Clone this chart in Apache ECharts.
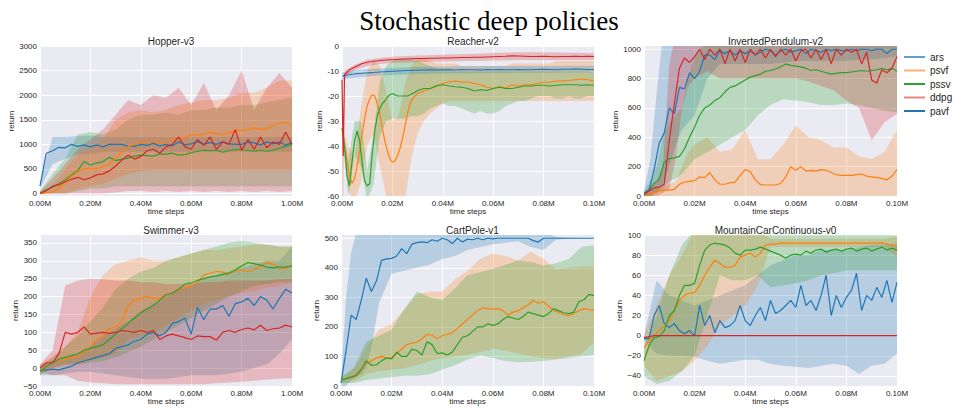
<!DOCTYPE html>
<html><head><meta charset="utf-8">
<script src="https://cdn.jsdelivr.net/npm/echarts@6/dist/echarts.min.js"></script>
<style>html,body{margin:0;padding:0;background:#fff}#c{width:953px;height:410px}</style>
</head><body><div id="c"></div>
<script>
function seq(step, n, start) { start = start || 0; return Array.from({length: n}, (_, i) => +(start + step * i).toFixed(6)); }

// ---------- Hopper-v3 ----------
const hopX = seq(0.025, 41);
const hopBlue = [150,820,870,940,930,1000,960,990,950,990,950,1000,1000,1000,960,960,1000,980,1020,970,1000,970,1050,990,1010,1060,1000,1040,1000,1050,1010,1000,1000,1050,1030,990,1050,1010,1050,980,1040];
const hopOrange = [0,20,30,100,250,350,450,500,510,500,540,600,720,850,950,1000,1040,1050,1050,1040,1050,1100,1120,1130,1200,1190,1210,1250,1220,1200,1240,1280,1290,1300,1340,1300,1320,1380,1440,1450,1380];
const hopGreen = [0,80,130,200,280,380,470,650,580,620,650,740,670,700,720,760,780,770,760,800,800,820,780,790,830,860,880,870,880,840,870,900,890,880,860,880,860,880,920,960,1000];
const hopRed = [0,60,150,180,240,290,330,280,320,380,400,460,560,680,780,700,750,870,900,820,950,1000,1150,950,900,1100,980,1150,900,1050,1000,1300,880,1100,900,1150,930,1050,1000,1250,1000];
const hopBX = seq(0.05, 21);
const hopBlueLo = [100,600,700,800,800,850,850,850,850,850,850,850,850,850,850,850,850,850,850,850,850];
const hopBlueHi = [250,1150,1150,1170,1180,1150,1150,1150,1150,1150,1150,1150,1150,1150,1150,1150,1150,1150,1150,1150,1150];
const hopOrangeLo = [0,0,0,100,150,200,300,400,450,480,480,480,480,480,480,480,480,480,480,480,480];
const hopOrangeHi = [30,150,500,800,900,1100,1500,1650,1700,1650,1700,1800,1850,1900,1900,1950,2050,2050,2150,2300,2300];
const hopGreenLo = [0,0,0,50,100,100,150,150,150,150,150,150,150,150,150,150,150,150,150,150,150];
const hopGreenHi = [50,400,700,1200,1250,1200,1300,1500,1600,1600,1650,1600,1700,1700,1750,1750,1800,1800,1850,1900,1950];
const hopRedLo = [0,0,0,0,0,0,20,50,50,30,50,30,50,30,50,30,50,30,50,30,50];
const hopRedHi = [50,300,600,900,1100,1300,1600,1900,1800,2000,1950,2150,1800,2250,1700,2000,2500,1700,2150,2450,2150];

// ---------- Reacher-v2 ----------
const reaX = [0, 0.0005].concat(seq(0.001, 30, 0.001), seq(0.0025, 28, 0.0325));
const reaRed = [-13.5,-44,-11.5,-10.5,-9.5,-9,-8.5,-8,-7.5,-7,-6.8,-6.5,-6.3,-6.2,-6,-6,-5.8,-5.7,-5.6,-5.6,-5.5,-5.5,-5.4,-5.4,-5.3,-5.3,-5.2,-5.2,-5.1,-5.1,-5,-5,-5,-4.9,-4.9,-4.8,-4.8,-4.7,-4.6,-4.6,-4.5,-4.5,-4.4,-4.3,-4.2,-4.1,-3.9,-4,-4.1,-4.2,-4.2,-4.1,-4.2,-4.3,-4.2,-4.2,-4.1,-4.2,-4.1,-4.2];
const reaBlue = [-12,-12,-11.8,-11.6,-11.5,-11.3,-11.2,-11,-11,-10.9,-10.8,-10.8,-10.6,-10.7,-10.5,-10.5,-10.4,-10.3,-10.3,-10.2,-10.2,-10.1,-10.1,-10,-10,-9.9,-9.9,-9.8,-9.8,-9.8,-9.7,-9.7,-9.6,-9.5,-9.6,-9.5,-9.5,-9.6,-9.4,-9.5,-9.5,-9.6,-9.4,-9.5,-9.4,-9.5,-9.5,-9.4,-9.5,-9.5,-9.4,-9.3,-9.4,-9.5,-9.3,-9.3,-9.2,-9.3,-9.4,-9.5];
const reaGreen = [-33,-36,-40,-52,-56,-46,-38,-34,-38,-47,-54,-56,-55,-43,-34,-28,-25,-23,-22,-20.5,-19.5,-19,-19.5,-20,-20,-20,-20,-20,-19.5,-19,-18.5,-17.8,-17,-17,-16,-15.5,-16,-16.3,-16.5,-17,-18,-17.5,-17.8,-17,-16.5,-17,-17,-16.5,-16,-16,-15.7,-15.7,-16,-15.7,-15.5,-15.5,-15.5,-15.7,-15.5,-15.7];
const reaOrange = [-33,-36,-40,-46,-52,-55,-53,-48,-42,-35,-29,-24,-21,-19.5,-20,-23,-27,-33,-38,-42,-45,-46.5,-46,-44,-41,-37,-32,-27,-23,-21,-20,-19,-18,-17,-15.8,-15,-14.3,-14,-14.5,-14.5,-15,-15.5,-16.5,-17,-16.2,-16.8,-15.5,-16,-15.5,-15.5,-15,-14.5,-14.5,-14,-14,-13.8,-13.5,-13.2,-13.5,-14];
const reaBX = seq(0.0025, 41);
const reaBlueLo = [-13.5,-13,-12.7,-12.5,-12.2,-12,-11.8,-11.7,-11.6,-11.5,-11.4,-11.3,-11.2,-11.1,-11,-11,-11,-10.9,-10.9,-10.9,-10.9,-10.8,-10.8,-10.8,-10.8,-10.8,-10.8,-10.8,-10.7,-10.7,-10.7,-10.7,-10.7,-10.7,-10.6,-10.6,-10.6,-10.6,-10.6,-10.6,-10.7];
const reaBlueHi = [-10.5,-10,-9.7,-9.5,-9.3,-9.1,-9,-8.9,-8.8,-8.7,-8.6,-8.5,-8.4,-8.3,-8.2,-8.2,-8.2,-8.2,-8.1,-8.1,-8.1,-8.1,-8.1,-8,-8,-8,-8,-8,-8,-8,-8,-8,-8,-8,-8,-8,-7.9,-7.9,-7.9,-7.9,-8];
const reaGreenLo = [-36,-60,-44,-48,-62,-55,-36,-30,-29,-29,-29,-28,-28,-27,-25,-24,-23,-24,-24,-25,-26,-27,-26,-27,-27,-26,-24,-23,-22,-22,-21,-20,-20,-20,-21,-21,-20,-21,-21,-20,-20];
const reaGreenHi = [-31,-46,-30,-30,-50,-35,-14,-8,-6,-5,-5,-5,-6,-7,-8,-9,-9,-9,-10,-10,-10,-10,-10,-10,-10,-10,-10,-10,-10,-10,-10,-10,-10,-10,-10,-10,-10,-10,-10,-10,-11];
const reaOrangeLo = [-34,-58,-62,-55,-40,-35,-48,-60,-62,-62,-62,-45,-35,-30,-27,-25,-23,-22,-22,-22,-22,-22,-22,-22,-22,-22,-22,-22,-22,-22,-22,-22,-22,-22,-22,-22,-22,-22,-22,-22,-22];
const reaOrangeHi = [-32,-40,-45,-25,-10,-6,-8,-18,-30,-28,-15,-8,-5,-5,-6,-7,-7,-7,-7,-8,-8,-8,-8,-8,-8,-8,-8,-7,-7,-7,-7,-7,-7,-7,-6,-6,-6,-6,-6,-6,-6];
const reaRedBX = [0,0.0005,0.001,0.0025,0.005,0.0075,0.01,0.015,0.02,0.03,0.04,0.05,0.06,0.07,0.08,0.09,0.1];
const reaRedLo = [-60,-60,-13,-11.5,-9.8,-8.8,-8,-7.2,-6.8,-6.4,-6.2,-6,-5.8,-5.6,-5.6,-5.6,-5.6];
const reaRedHi = [-11,-30,-10,-9,-7.5,-6.5,-5.5,-4.8,-4.3,-3.8,-3.5,-3.2,-2.8,-2.5,-2.5,-2.7,-2.8];

// ---------- InvertedPendulum-v2 ----------
const ipX = seq(0.002, 51);
const ipBlue = [20,40,180,360,430,600,560,740,730,840,800,850,960,960,930,990,970,990,960,990,970,990,960,980,1000,990,960,990,1000,980,990,1000,970,1000,990,980,1000,990,1000,990,990,1000,990,1000,1000,990,1000,1000,970,1000,1000];
const ipRed = [10,35,55,60,80,380,630,870,940,910,950,1000,930,1000,960,1000,900,1000,920,1000,910,1000,960,1000,940,1000,950,1000,960,1000,920,990,1000,940,1000,930,1000,900,1000,960,1000,980,1000,900,980,790,770,860,840,870,950];
const ipGreen = [10,35,85,115,230,255,260,270,320,400,470,550,600,620,650,670,710,740,750,770,790,810,820,830,850,855,865,880,900,890,885,880,870,855,860,850,840,830,835,840,840,845,850,855,850,855,860,870,860,870,850];
const ipOrange = [0,15,25,35,40,40,45,80,95,100,105,130,125,160,110,80,80,90,95,140,180,165,110,78,75,75,75,85,130,200,175,200,170,175,170,180,175,160,145,140,140,140,145,150,135,130,125,120,110,135,180];
const ipBX = seq(0.0025, 9).concat(seq(0.005, 16, 0.025));
const ipBlueLo = [0,0,30,80,200,350,450,500,550,800,900,900,900,900,900,910,920,920,920,920,920,930,930,940,950];
const ipBlueHi = [40,250,700,1100,1100,1100,1100,1100,1100,1100,1100,1100,1100,1100,1100,1100,1100,1100,1100,1100,1100,1100,1100,1100,1100];
const ipRedLo = [0,0,0,20,50,250,600,750,800,850,800,800,800,800,800,800,800,780,750,720,650,600,380,500,560];
const ipRedHi = [20,70,100,200,900,1100,1100,1100,1100,1100,1100,1100,1100,1100,1100,1100,1100,1100,1100,1100,1100,1100,1100,1100,1100];
const ipGreenLo = [0,0,20,50,100,120,150,200,250,300,350,400,450,550,620,660,650,640,620,620,630,620,600,580,570];
const ipGreenHi = [30,100,200,400,500,550,600,800,950,1050,1050,1050,1050,1050,1050,1050,1050,1050,1050,1050,1050,1050,1050,1050,1050];
const ipOrangeLo = [0,0,0,0,0,0,0,0,0,0,0,0,0,0,0,0,0,0,0,0,0,0,0,0,0];
const ipOrangeHi = [10,30,50,60,80,100,200,300,350,400,300,320,450,250,250,350,480,400,380,330,330,270,250,300,450];

// ---------- Swimmer-v3 ----------
const swX = seq(0.025, 41);
const swRed = [0,15,15,40,100,95,100,115,95,98,100,97,100,105,103,100,105,100,105,80,90,95,90,85,80,90,88,88,78,100,105,100,108,112,107,120,105,110,112,120,115];
const swBlue = [-5,-5,-3,-5,0,5,15,20,25,30,35,40,55,60,65,75,80,95,100,90,100,125,130,140,95,170,135,165,165,175,145,180,185,195,175,200,190,165,195,220,210];
const swOrange = [-5,5,15,20,25,30,30,45,60,80,90,110,115,130,175,190,195,200,195,195,205,210,220,225,230,240,260,265,270,268,265,270,275,270,275,285,295,290,280,278,288];
const swGreen = [-10,5,15,25,30,35,40,50,55,60,65,80,95,110,125,140,155,165,175,190,205,210,220,235,238,245,250,255,258,262,265,275,285,295,292,288,282,280,282,283,285];
const swBX = seq(0.05, 21);
const swRedLo = [-10,-20,-20,-35,-40,-42,-45,-45,-45,-45,-45,-45,-45,-45,-42,-40,-38,-35,-32,-30,-28];
const swRedHi = [10,50,230,245,250,248,245,245,240,240,235,235,235,240,240,245,245,245,245,248,250];
const swOrangeLo = [-20,0,10,10,20,30,40,80,90,100,120,140,160,180,190,200,210,215,225,230,240];
const swOrangeHi = [10,30,60,100,200,260,290,300,310,300,300,310,320,330,330,335,340,345,345,340,340];
const swGreenLo = [-20,0,10,10,15,20,30,45,60,80,100,120,140,160,180,200,215,230,235,240,240];
const swGreenHi = [0,30,60,90,130,170,220,250,270,280,300,310,320,330,340,350,355,350,345,340,340];
const swBlueLo = [-20,-20,-15,-10,-10,-15,-20,-25,-30,-30,-30,-25,-20,-20,-20,-15,-10,0,10,40,80];
const swBlueHi = [10,20,25,40,60,90,110,130,160,180,200,220,230,250,260,270,280,290,300,300,340];

// ---------- CartPole-v1 ----------
const cpX = seq(0.002, 51);
const cpBlue = [10,120,240,225,290,365,320,355,425,430,432,440,465,448,480,485,488,485,495,490,500,495,482,500,487,497,495,500,495,500,498,500,500,500,500,500,500,500,492,487,500,500,500,500,500,500,500,500,500,500,500];
const cpOrange = [20,25,30,40,60,75,85,95,100,95,95,110,125,140,145,148,160,175,172,160,170,175,180,195,210,225,240,255,265,262,260,262,255,240,250,255,265,275,290,280,285,270,255,250,242,238,245,255,262,258,256];
const cpGreen = [20,25,30,35,55,85,70,72,85,95,92,115,100,100,125,120,105,150,140,110,112,105,115,140,165,170,185,200,200,210,205,210,225,235,230,225,235,250,245,240,235,245,262,255,248,245,250,285,292,310,306];
const cpBX = seq(0.005, 21);
const cpOrangeLo = [10,15,40,50,55,60,70,85,95,100,105,115,125,120,110,100,95,92,100,108,148];
const cpOrangeHi = [30,60,130,190,210,260,310,320,320,360,390,430,448,440,425,455,430,395,400,405,403];
const cpGreenLo = [10,10,20,25,30,35,35,40,55,70,90,103,95,85,80,82,85,90,95,100,105];
const cpGreenHi = [30,60,150,170,190,260,320,300,290,330,375,385,397,410,425,420,408,415,430,470,476];
const cpBlueBX = [0,0.002,0.004,0.006,0.008,0.01,0.0125,0.015,0.02,0.025,0.03,0.035,0.04,0.045,0.05,0.06,0.07,0.075,0.08,0.085,0.09,0.1];
const cpBlueLo = [0,0,20,30,40,60,150,280,380,390,400,410,430,440,460,480,490,470,460,495,498,500];
const cpBlueHi = [20,300,450,520,520,520,520,520,520,520,520,520,520,520,520,520,520,520,520,505,502,500];

// ---------- MountainCarContinuous-v0 ----------
const mcX = seq(0.002, 51);
const mcRed = [-2,-1,0,0,0,0,0,0,0,0,0,0,0,0,0,0,0,0,0,0,0,0,0,0,0,0,0,0,0,0,0,0,0,0,0,0,0,0,0,0,0,0,0,0,0,0,0,0,0,0,0];
const mcBlue = [-3,-3,20,30,12,8,12,5,2,5,0,30,10,20,3,15,8,10,15,30,15,10,20,28,15,35,22,25,30,35,28,50,30,35,25,40,60,20,40,28,38,45,62,25,40,35,48,38,55,33,53];
const mcGreen = [-25,-10,-2,-1,5,20,25,40,50,50,52,70,85,90,92,91,90,87,82,80,85,85,86,88,86,84,82,80,77,80,81,80,84,82,85,86,83,85,86,84,86,87,84,86,87,84,86,88,85,87,85];
const mcOrange = [-12,-5,0,5,10,15,25,35,40,42,43,50,60,68,75,72,68,68,70,78,80,82,78,82,90,91,91,92,92,92,92,92,92,92,92,92,92,92,92,92,92,92,92,92,92,92,92,92,91,90,88];
const mcBX = seq(0.005, 21);
const mcBlueLo = [-5,-18,-20,-20,-21,-25,-28,-26,-24,-24,-28,-30,-31,-32,-30,-28,-30,-38,-30,-28,-18];
const mcBlueHi = [0,55,40,35,30,35,40,45,50,60,70,75,80,80,85,85,85,88,90,90,92];
const mcOrangeLo = [-30,-45,-40,-35,-25,-10,10,20,30,50,88,88,88,88,88,88,88,88,88,88,78];
const mcOrangeHi = [0,30,60,80,105,105,105,105,105,105,96,96,96,96,96,96,96,96,96,96,98];
const mcGreenLo = [-40,-48,-45,-35,-20,20,60,55,55,60,48,50,52,55,60,62,65,65,65,65,65];
const mcGreenHi = [-10,20,60,90,105,105,105,105,105,105,105,105,105,105,105,105,105,105,105,105,105];

const panelTitles = ['Hopper-v3','Reacher-v2','InvertedPendulum-v2','Swimmer-v3','CartPole-v1','MountainCarContinuous-v0'];
const legendNames = ['ars','psvf','pssv','ddpg','pavf'];

// ---------- build ----------
const C = {blue:'#1f77b4', orange:'#ff7f0e', green:'#2ca02c', red:'#d62728'};
const FONT = '"Liberation Sans", Arial, sans-serif';
const TXT = '#262626';
const series = [];
function band(g, color, xs, lo, hi) {
  series.push({
    type:'custom', xAxisIndex:g, yAxisIndex:g, clip:true, silent:true, z:1, animation:false,
    data: xs.map((x, i) => [x, lo[i], hi[i]]),
    encode:{x:0, y:[1, 2]},
    renderItem: function (params, api) {
      if (params.dataIndex !== 0) return null;
      const pts = [];
      for (let i = 0; i < xs.length; i++) pts.push(api.coord([xs[i], hi[i]]));
      for (let i = xs.length - 1; i >= 0; i--) pts.push(api.coord([xs[i], lo[i]]));
      return {type:'polygon', shape:{points:pts}, style:{fill:color, opacity:0.25, stroke:null}};
    }
  });
}
function line(g, name, color, xs, ys) {
  series.push({type:'line', name:name, xAxisIndex:g, yAxisIndex:g, symbol:'none', animation:false,
    lineStyle:{width:1.2, color:color}, itemStyle:{color:color}, data: xs.map((x, i) => [x, ys[i]]), z:3});
}
// Hopper
band(0, C.blue, hopBX, hopBlueLo, hopBlueHi);
band(0, C.green, hopBX, hopGreenLo, hopGreenHi);
band(0, C.orange, hopBX, hopOrangeLo, hopOrangeHi);
band(0, C.red, hopBX, hopRedLo, hopRedHi);
line(0, 'pavf', C.blue, hopX, hopBlue);
line(0, 'pssv', C.green, hopX, hopGreen);
line(0, 'psvf', C.orange, hopX, hopOrange);
line(0, 'ddpg', C.red, hopX, hopRed);
// Reacher
band(1, C.orange, reaBX, reaOrangeLo, reaOrangeHi);
band(1, C.green, reaBX, reaGreenLo, reaGreenHi);
band(1, C.blue, reaBX, reaBlueLo, reaBlueHi);
band(1, C.red, reaRedBX, reaRedLo, reaRedHi);
line(1, 'psvf', C.orange, reaX, reaOrange);
line(1, 'pssv', C.green, reaX, reaGreen);
line(1, 'pavf', C.blue, reaX, reaBlue);
line(1, 'ddpg', C.red, reaX, reaRed);
// InvertedPendulum
band(2, C.blue, ipBX, ipBlueLo, ipBlueHi);
band(2, C.orange, ipBX, ipOrangeLo, ipOrangeHi);
band(2, C.green, ipBX, ipGreenLo, ipGreenHi);
band(2, C.red, ipBX, ipRedLo, ipRedHi);
line(2, 'psvf', C.orange, ipX, ipOrange);
line(2, 'pssv', C.green, ipX, ipGreen);
line(2, 'pavf', C.blue, ipX, ipBlue);
line(2, 'ddpg', C.red, ipX, ipRed);
// Swimmer
band(3, C.blue, swBX, swBlueLo, swBlueHi);
band(3, C.orange, swBX, swOrangeLo, swOrangeHi);
band(3, C.green, swBX, swGreenLo, swGreenHi);
band(3, C.red, swBX, swRedLo, swRedHi);
line(3, 'pavf', C.blue, swX, swBlue);
line(3, 'psvf', C.orange, swX, swOrange);
line(3, 'pssv', C.green, swX, swGreen);
line(3, 'ddpg', C.red, swX, swRed);
// CartPole
band(4, C.blue, cpBlueBX, cpBlueLo, cpBlueHi);
band(4, C.orange, cpBX, cpOrangeLo, cpOrangeHi);
band(4, C.green, cpBX, cpGreenLo, cpGreenHi);
line(4, 'pavf', C.blue, cpX, cpBlue);
line(4, 'psvf', C.orange, cpX, cpOrange);
line(4, 'pssv', C.green, cpX, cpGreen);
// MountainCar
band(5, C.blue, mcBX, mcBlueLo, mcBlueHi);
band(5, C.orange, mcBX, mcOrangeLo, mcOrangeHi);
band(5, C.green, mcBX, mcGreenLo, mcGreenHi);
line(5, 'pavf', C.blue, mcX, mcBlue);
line(5, 'psvf', C.orange, mcX, mcOrange);
line(5, 'pssv', C.green, mcX, mcGreen);
line(5, 'ddpg', C.red, mcX, mcRed);
// legend-only series
series.push({type:'line', name:'ars', xAxisIndex:0, yAxisIndex:0, symbol:'none', data:[], lineStyle:{color:C.blue}, itemStyle:{color:C.blue}});

const gridPos = [
  {left:40, top:46, width:252, height:150},
  {left:342, top:46, width:252, height:150},
  {left:644, top:46, width:253, height:150},
  {left:40, top:235, width:252, height:151},
  {left:341, top:235, width:253, height:151},
  {left:644, top:235, width:253, height:151}
];
const grids = gridPos.map(p => Object.assign({show:true, backgroundColor:'#EAEAF2', borderWidth:0}, p));
const xMax = [1, 0.1, 0.1, 1, 0.1, 0.1];
const xAxes = xMax.map((m, g) => ({
  type:'value', gridIndex:g, min:0, max:m, interval:m/5,
  axisLine:{show:false}, axisTick:{show:false},
  axisLabel:{fontSize:8, color:TXT, margin:3, fontFamily:FONT, formatter: v => v.toFixed(2) + 'M'},
  splitLine:{show:true, lineStyle:{color:'#ffffff', width:1}},
  name:'time steps', nameLocation:'middle', nameGap:11, nameTextStyle:{fontSize:8, color:TXT, fontFamily:FONT}
}));
const uminus = v => (v < 0 ? '\u2212' + Math.abs(v) : String(v));
const T = 'rgba(0,0,0,0)', W = '#ffffff';
const yCfg = [
  {min:-50, max:3000, interval:50, gap:24, fmt: v => (v % 500 === 0 ? String(v) : ''), colors:[T,W,T,T,T,T,T,T,T,T]},
  {min:-60, max:0, interval:10, gap:18, fmt: v => String(v), colors:[W]},
  {min:0, max:1022, interval:200, gap:23, fmt: v => String(v), colors:[W], hideMax:true},
  {min:-50, max:372, interval:50, gap:20, fmt: uminus, colors:[W], hideMax:true},
  {min:0, max:511, interval:100, gap:18, fmt: v => String(v), colors:[W], hideMax:true},
  {min:-50, max:100, interval:10, gap:18, fmt: v => (v % 20 === 0 ? uminus(v) : ''), colors:[T,W]}
];
const yAxes = yCfg.map((c, g) => ({
  type:'value', gridIndex:g, min:c.min, max:c.max, interval:c.interval,
  axisLine:{show:false}, axisTick:{show:false},
  axisLabel:Object.assign({fontSize:8, color:TXT, margin:3, fontFamily:FONT, formatter:c.fmt}, c.hideMax ? {showMaxLabel:false} : {}),
  splitLine:Object.assign({show:true, lineStyle:{color:c.colors, width:1}}, c.hideMax ? {showMaxLine:false} : {}),
  name:'return', nameLocation:'middle', nameRotate:90, nameGap:c.gap,
  nameTextStyle:{fontSize:8, color:TXT, fontFamily:FONT}
}));

const titles = [{text:'Stochastic deep policies', left:484, top:2, textAlign:'center',
  textStyle:{fontFamily:'"Liberation Serif", "Times New Roman", serif', fontSize:27, lineHeight:27, fontWeight:'normal', color:'#000'}}];
panelTitles.forEach((t, g) => {
  const p = gridPos[g];
  titles.push({text:t, left:p.left + p.width / 2, top:(g < 3 ? 31 : 220), textAlign:'center',
    textStyle:{fontFamily:FONT, fontSize:10, lineHeight:10, fontWeight:'normal', color:TXT}});
});

const legendStyles = {
  ars:{color:C.blue, opacity:0.7},
  psvf:{color:C.orange, opacity:0.6},
  pssv:{color:C.green, opacity:1},
  ddpg:{color:C.red, opacity:0.55},
  pavf:{color:C.blue, opacity:1}
};

const chart = echarts.init(document.getElementById('c'), null, {renderer:'svg'});
chart.setOption({
  animation:false,
  backgroundColor:'#ffffff',
  textStyle:{fontFamily:FONT},
  title:titles,
  grid:grids,
  xAxis:xAxes,
  yAxis:yAxes,
  legend:{
    orient:'vertical', left:904, top:52, padding:0, icon:'rect', itemWidth:21, itemHeight:2, itemGap:3.5,
    textStyle:{fontSize:10, color:TXT, fontFamily:FONT},
    data: legendNames.map(n => ({name:n, itemStyle:{color:legendStyles[n].color, opacity:legendStyles[n].opacity, borderWidth:0}}))
  },
  series:series
});
</script>
</body></html>
